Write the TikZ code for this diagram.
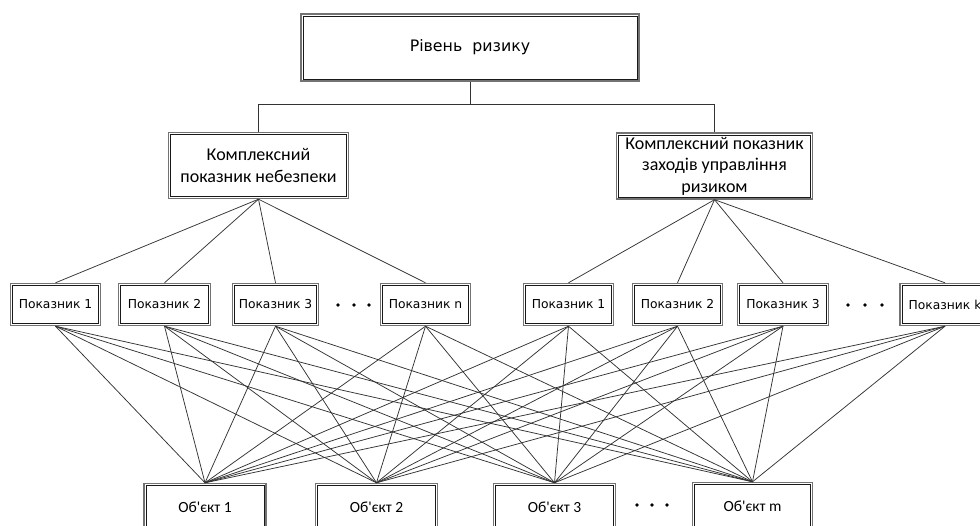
\documentclass[tikz,border=0pt]{standalone}
\usepackage{fontspec}
\setmainfont{DejaVu Sans}
\newfontfamily\calib{Carlito}
\begin{document}
\begin{tikzpicture}[x=1pt,y=-1pt,
  box/.style={draw=black!55, line width=1.4pt, fill=white,
              inner sep=0pt, align=center,
              path picture={\draw[black!90, line width=0.7pt]
                ([shift={(2pt,-2pt)}]path picture bounding box.north west) rectangle
                ([shift={(-2pt,2pt)}]path picture bounding box.south east);}},
  topbox/.style={box, minimum width=338pt, minimum height=67pt, font=\fontsize{15.8}{18}\selectfont},
  cbox/.style={box, minimum height=66pt, font=\calib\fontsize{18}{22}\selectfont},
  ibox/.style={box, minimum height=42pt, font=\fontsize{12.3}{14}\selectfont},
  obox/.style={box, minimum width=122pt, minimum height=48pt, font=\calib\fontsize{15.5}{18}\selectfont},
  link/.style={draw=black!80, line width=0.75pt},
  dot/.style={fill=black, circle, inner sep=0pt, minimum size=3.6pt}]
\useasboundingbox (0,0) rectangle (980,526);
\clip (0,0) rectangle (980,526);

% top
\node[topbox] (top) at (470,47.5) {Рівень\ \ ризику};
% complex
\node[cbox, minimum width=180pt] (lc) at (258.5,165.5) {Комплексний\\показник небезпеки};
\node[cbox, minimum width=196pt, font=\calib\fontsize{18}{21.5}\selectfont] (rc) at (714.5,166) {Комплексний показник\\заходів управління\\ризиком};

% indicators
\node[ibox, minimum width=90pt] (l1) at (55.5,304.5) {Показник 1};
\node[ibox, minimum width=92pt] (l2) at (164.5,304.5) {Показник 2};
\node[ibox, minimum width=86pt] (l3) at (275.5,304.5) {Показник 3};
\node[ibox, minimum width=90pt] (ln) at (425.5,304.5) {Показник n};
\node[ibox, minimum width=90pt] (r1) at (568.5,304.5) {Показник 1};
\node[ibox, minimum width=90pt] (r2) at (677.5,304.5) {Показник 2};
\node[ibox, minimum width=91pt] (r3) at (783,304.5) {Показник 3};
\node[ibox, minimum width=90pt] (rk) at (945,304.5) {Показник k};

\node[dot] (d1) at (338,305) {};
\node[dot] (d2) at (354,305) {};
\node[dot] (d3) at (369,305) {};
\node[dot] (d4) at (848,305) {};
\node[dot] (d5) at (865,305) {};
\node[dot] (d6) at (882,305) {};

% objects
\node[obox] (o1) at (205,507.5) {Об'єкт 1};
\node[obox] (o2) at (376.5,507.5) {Об'єкт 2};
\node[obox] (o3) at (554.5,507.5) {Об'єкт 3};
\node[obox, minimum width=120pt] (om) at (752.5,506.5) {Об'єкт m};

\node[dot] (d7) at (637,505) {};
\node[dot] (d8) at (652,505) {};
\node[dot] (d9) at (667,505) {};

% connectors
\coordinate (bus) at (470,104.5);
\draw[link] (top.south) -- (bus);
\draw[link] (lc.north) |- (bus) -| (rc.north);

\foreach \i in {l1,l2,l3,ln} \draw[link] (lc.south) -- (\i.north);
\foreach \i in {r1,r2,r3,rk} \draw[link] (rc.south) -- (\i.north);

\foreach \i in {l1,l2,l3,ln,r1,r2,r3,rk}
  \foreach \j in {o1,o2,o3,om}
    \draw[link] (\i.south) -- (\j.north);
\end{tikzpicture}
\end{document}
